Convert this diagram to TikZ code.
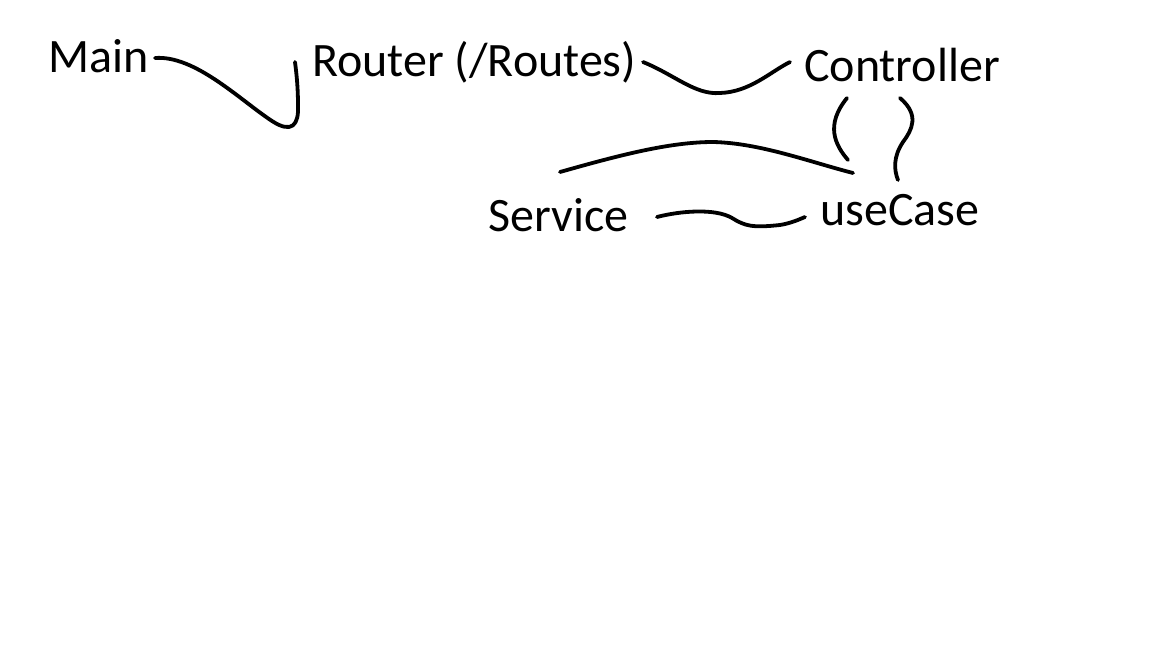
\documentclass[tikz,border=0pt]{standalone}
\usepackage{fontspec}
\setmainfont{Carlito}
\begin{document}
\begin{tikzpicture}[x=1pt,y=1pt,
  lbl/.style={anchor=base west,inner sep=0pt,font=\fontsize{48}{53}\selectfont},
  stroke/.style={line width=3.8pt,line cap=round,line join=round}]
\useasboundingbox[fill=white] (0,0) rectangle (1152,-648);
\node[lbl] (main) at (48,-72) {Main};
\node[lbl] (router) at (312,-76) {Router (/Routes)};
\node[lbl] (ctrl) at (804,-81) {Controller};
\node[lbl] (svc) at (488,-231) {Service};
\node[lbl] (uc) at (820,-225) {useCase};
% connector end points
\coordinate (a1) at (155,-58);
\coordinate (a2) at (295,-62);
\coordinate (b1) at (643,-62);
\coordinate (b2) at (790,-62);
\coordinate (c1) at (847,-98);
\coordinate (c2) at (848,-160);
\coordinate (d1) at (900,-98);
\coordinate (d2) at (898,-180);
\coordinate (e1) at (560,-172);
\coordinate (e2) at (853,-173);
\coordinate (f1) at (657,-217);
\coordinate (f2) at (805,-217);
\draw[stroke] (a1) .. controls (195,-55) and (240,-100) .. (272,-121)
  .. controls (292,-134) and (299,-125) .. (298,-105)
  .. controls (298,-85) and (296,-70) .. (a2);
\draw[stroke] (b1) .. controls (675,-75) and (695,-95) .. (720,-93)
  .. controls (750,-92) and (770,-72) .. (b2);
\draw[stroke] (c1) .. controls (825,-125) and (835,-145) .. (c2);
\draw[stroke] (d1) .. controls (920,-115) and (912,-130) .. (903,-142)
  .. controls (893,-157) and (894,-170) .. (d2);
\draw[stroke] (e1) .. controls (620,-155) and (670,-142) .. (713,-142)
  .. controls (760,-143) and (810,-162) .. (e2);
\draw[stroke] (f1) .. controls (680,-211) and (715,-208) .. (732,-218)
  .. controls (745,-226) and (752,-228) .. (780,-225)
  .. controls (792,-223) and (800,-219) .. (f2);
\end{tikzpicture}
\end{document}
